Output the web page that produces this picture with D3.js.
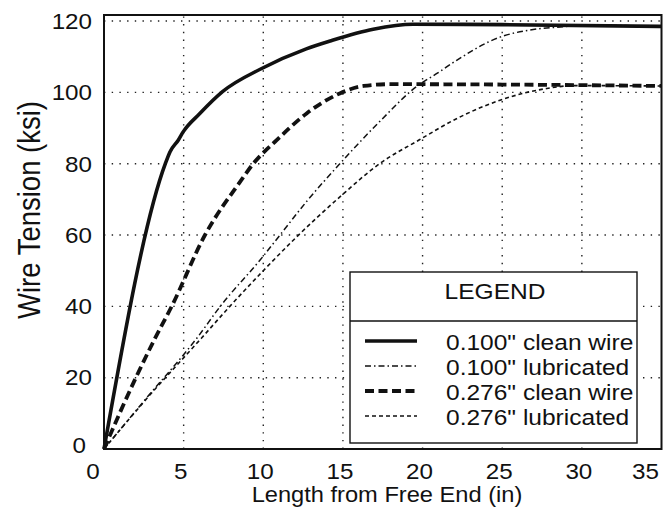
<!DOCTYPE html>
<html><head><meta charset="utf-8">
<script src="https://cdn.jsdelivr.net/npm/d3@7"></script>
<style>body{margin:0;background:#fff}text{font-family:"Liberation Sans",Arial,sans-serif;fill:#111}</style>
</head><body><svg id="c" width="666" height="513"></svg>
<script>
const xTicks=[0,5,10,15,20,25,30,35];
const yTicks=[0,20,40,60,80,100,120];
const seriesNames=['0.100" clean wire','0.100" lubricated','0.276" clean wire','0.276" lubricated'];
const clean100=[[0,0],[3.85,80],[4.14,83.3],[4.66,86.6],[4.98,89],[6,94],[7.44,100.2],[9.9,106.7],[12.7,112.2],[14.2,114.4],[16.9,117.7],[19.4,119.1],[25,119],[35,118.5]];
const lub100=[[0,0],[2.5,13.4],[5.9,31.5],[7.3,40],[9.8,53],[11.05,60],[12.7,69.3],[14.81,80],[17.3,91.8],[19.73,102],[20.9,105.3],[22.14,109],[24.86,115.5],[26.74,117.5],[28.83,118.4],[30,118.8],[35,118.6]];
const clean276=[[0,0],[2,20],[3.2,31],[4.25,40],[6.34,60],[8.54,74.9],[9.37,80],[10.84,86.6],[12.72,94.1],[14.8,99.7],[16.3,101.8],[18,102.3],[25,102.2],[35,101.8]];
const lub276=[[0,0],[2.5,13.2],[6.1,31],[7.9,40],[10,50],[12.1,59.5],[14.81,70.7],[17.3,80],[19.8,86.7],[22.3,93],[24.86,97.8],[27.8,101.1],[29.5,101.9],[35,101.8]];

const svg=d3.select('#c');
const x=d3.scaleLinear().domain([0,35]).range([104,661.5]);
const y=d3.scaleLinear().domain([0,121.7]).range([449,15]);
const SX=1.1;
function txt(parent,px,py,s,size,anchor){
  parent.append('g').attr('transform',`translate(${px},${py}) scale(${SX},1)`)
   .append('text').attr('text-anchor',anchor||'start').style('font-size',size+'px').text(s);
}

// grid
const g=svg.append('g');
g.selectAll('.vg').data(xTicks.filter(d=>d>0&&d<35)).join('line')
 .attr('x1',d=>x(d)).attr('x2',d=>x(d)).attr('y1',y(0)).attr('y2',y(121.7))
 .attr('stroke','#222').attr('stroke-width',1.4).attr('stroke-dasharray','1.4,6.3');
g.selectAll('.hg').data(yTicks.filter(d=>d>0)).join('line')
 .attr('y1',d=>y(d)).attr('y2',d=>y(d)).attr('x1',x(0)).attr('x2',x(35))
 .attr('stroke','#222').attr('stroke-width',1.4).attr('stroke-dasharray','1.4,6.3');

const line=d3.line().x(d=>x(d[0])).y(d=>y(d[1])).curve(d3.curveMonotoneX);
const styles=[
 {data:clean100,w:3.6,dash:null},
 {data:lub100,w:1.5,dash:'6,3,1.5,3'},
 {data:clean276,w:3.8,dash:'9,4.5'},
 {data:lub276,w:1.6,dash:'4,3'}];
styles.forEach(s=>{
 svg.append('path').datum(s.data).attr('d',line).attr('fill','none').attr('stroke','#111')
  .attr('stroke-width',s.w).attr('stroke-dasharray',s.dash);
});

// frame
svg.append('rect').attr('x',x(0)).attr('y',y(121.7)).attr('width',x(35)-x(0)).attr('height',y(0)-y(121.7))
 .attr('fill','none').attr('stroke','#111').attr('stroke-width',2);

// tick labels
yTicks.forEach(d=>{
  txt(svg, d===0?86:92, y(d)+(d===0?-4:0)+7.8, d, 22, 'end');
});
xTicks.forEach(d=>{
  if(d===0) txt(svg, x(d)-11, 479, d, 22, 'middle');
  else if(d===35) txt(svg, x(d)-2.5, 479, d, 22, 'end');
  else txt(svg, x(d)-3, 479, d, 22, 'middle');
});

// axis titles
svg.append('text').attr('transform','translate(40,210) rotate(-90) scale(1,1.12)').attr('text-anchor','middle')
 .style('font-size','27.5px').text('Wire Tension (ksi)');
txt(svg, 387, 502, 'Length from Free End (in)', 21.5, 'middle');

// legend
const lg=svg.append('g');
lg.append('rect').attr('x',350).attr('y',272).attr('width',287).attr('height',171)
 .attr('fill','#fff').attr('stroke','#111').attr('stroke-width',1.4);
lg.append('line').attr('x1',350).attr('x2',637).attr('y1',321).attr('y2',321).attr('stroke','#111').attr('stroke-width',1.4);
txt(lg, 495, 299, 'LEGEND', 22.3, 'middle');
styles.forEach((s,i)=>{
 const base=350+i*25;
 lg.append('line').attr('x1',365).attr('x2',417).attr('y1',base-9).attr('y2',base-9).attr('stroke','#111')
  .attr('stroke-width',s.w).attr('stroke-dasharray',s.dash);
 txt(lg, 446, base, seriesNames[i], 22.3, 'start');
});
</script></body></html>
